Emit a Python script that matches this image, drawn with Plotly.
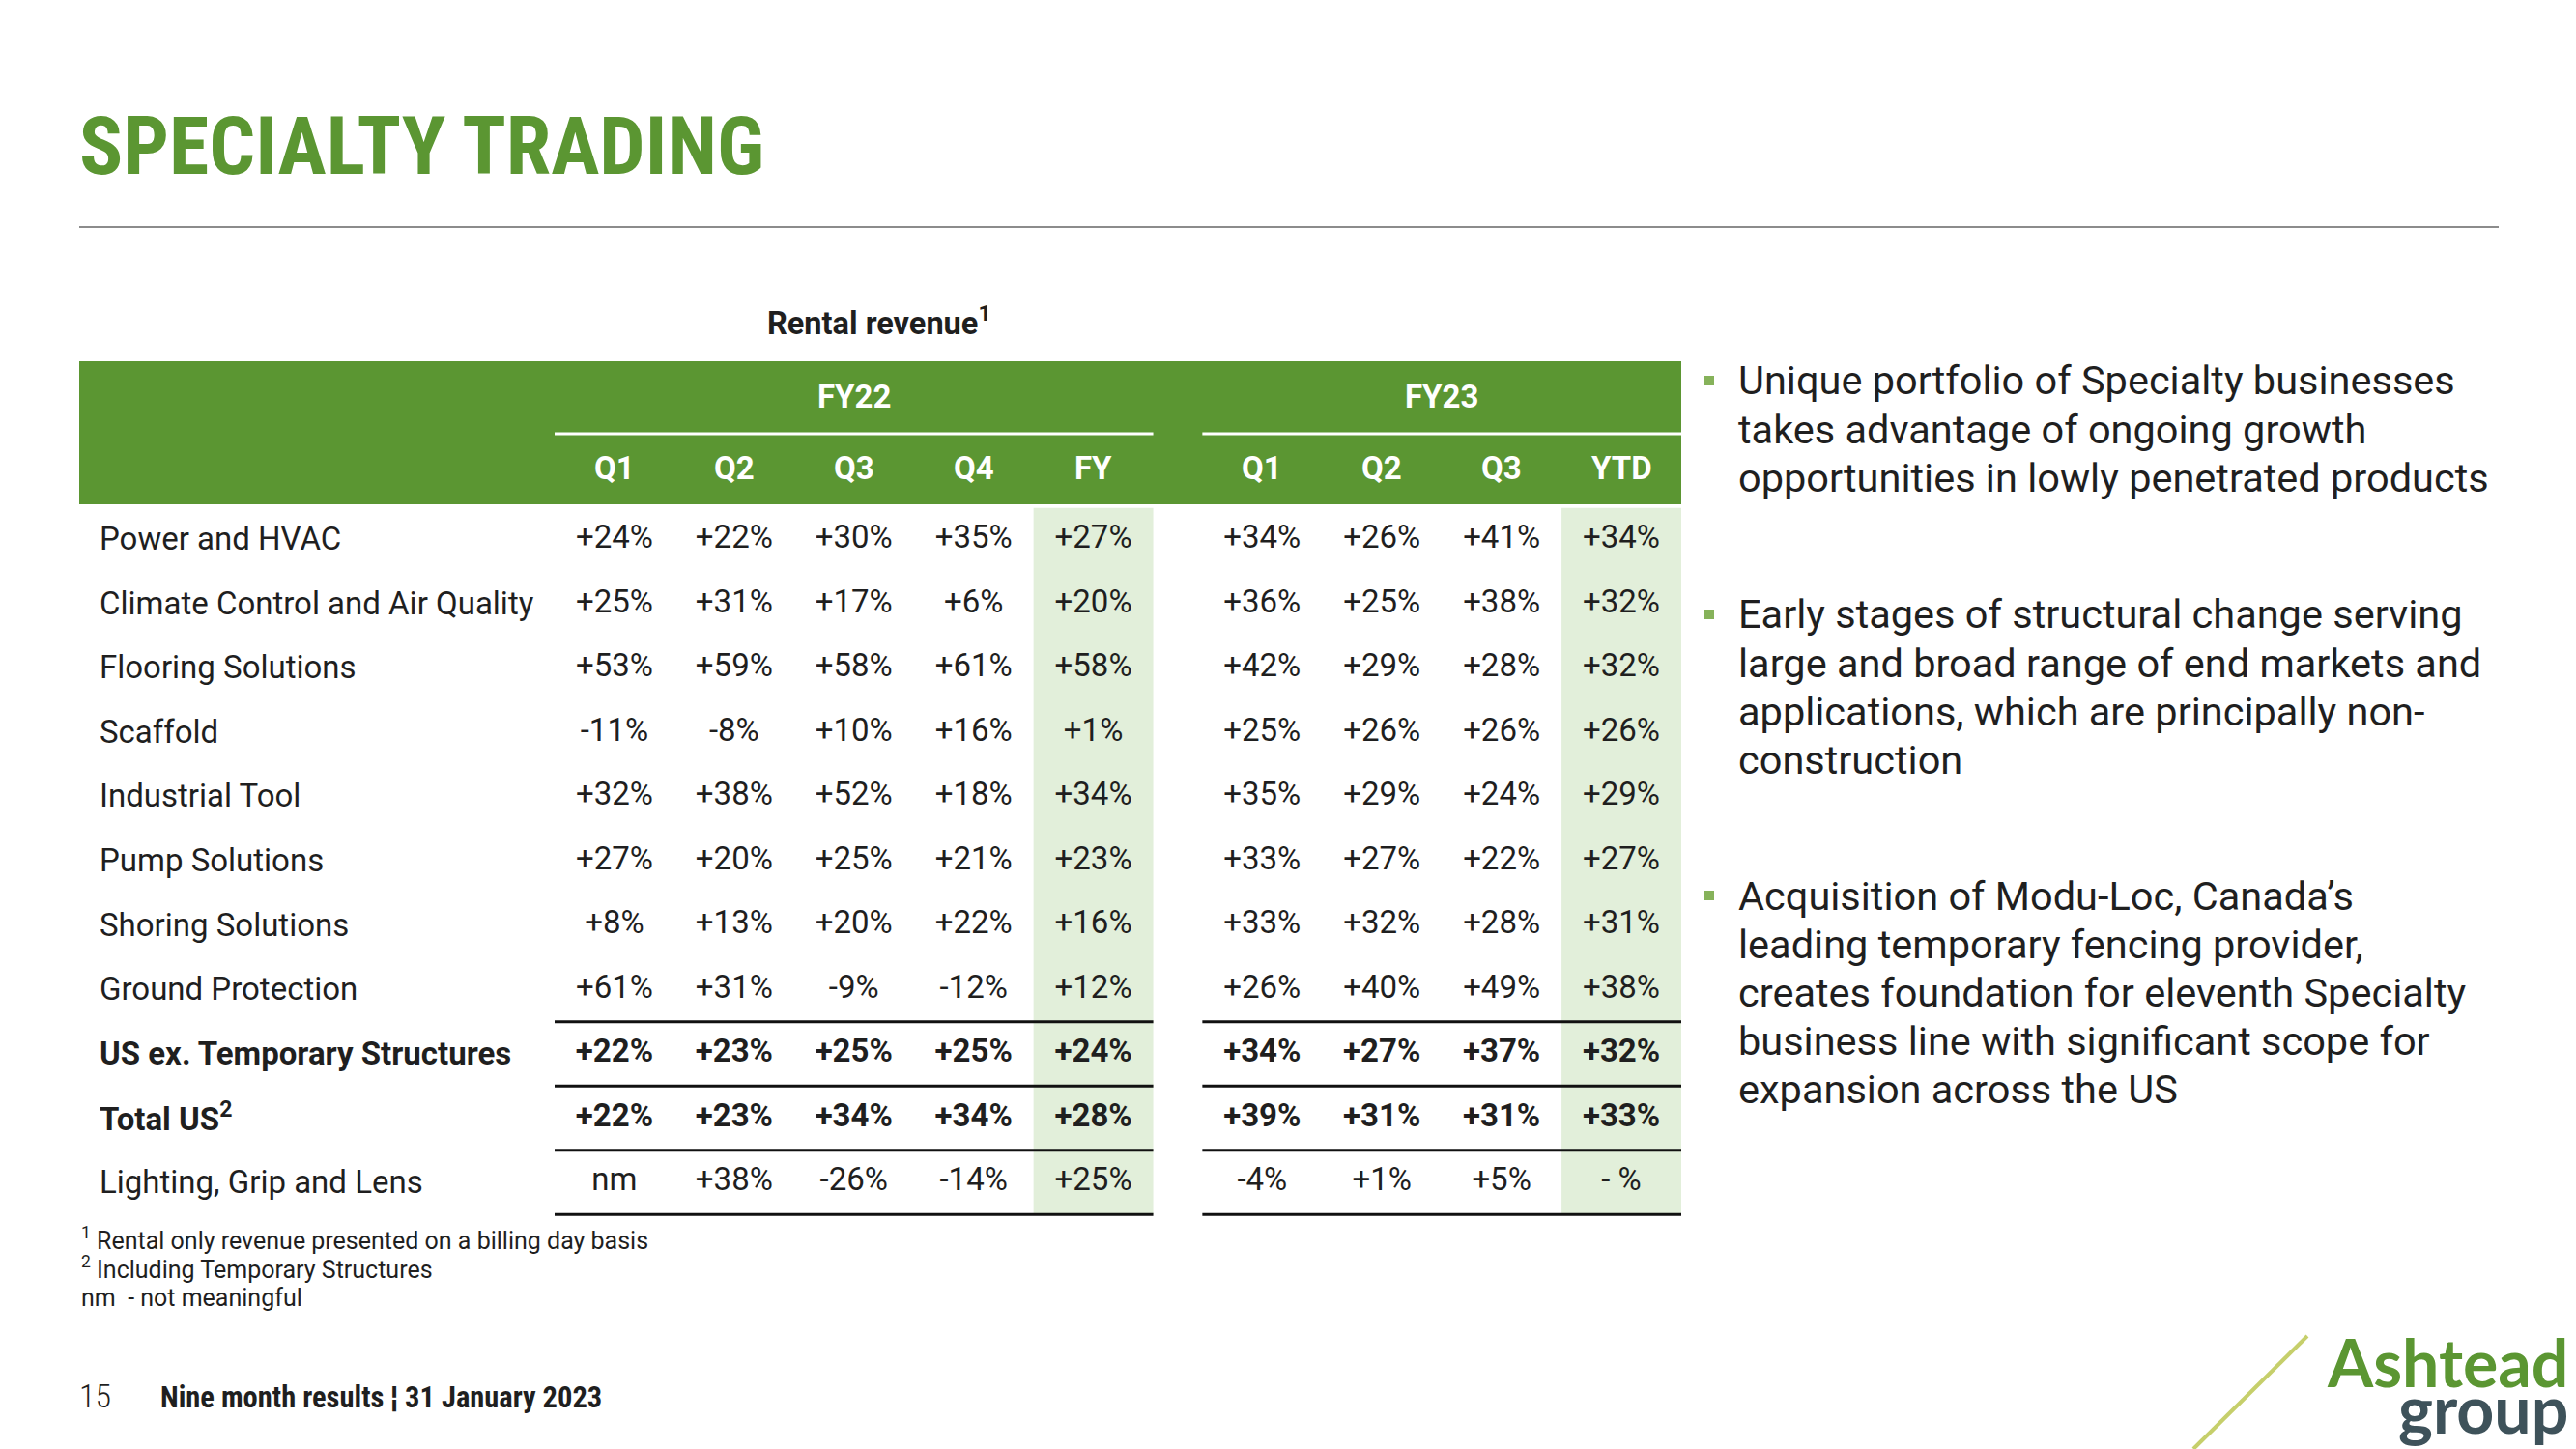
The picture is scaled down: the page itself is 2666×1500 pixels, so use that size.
import plotly.graph_objects as go

W, H = 2666, 1500
GREEN = "#5B9632"
LIGHT = "#E2EFDA"
TEXT = "#1F1F1F"
BODY = "Roboto, 'Noto Sans', sans-serif"
NARROW = "'Roboto Condensed', 'Liberation Sans Narrow', 'Arial Narrow', 'DejaVu Sans Condensed', sans-serif"

# ---------------- data ----------------
rows = ["Power and HVAC", "Climate Control and Air Quality", "Flooring Solutions", "Scaffold",
        "Industrial Tool", "Pump Solutions", "Shoring Solutions", "Ground Protection",
        "US ex. Temporary Structures", "Total US", "Lighting, Grip and Lens"]
row_display = {"Total US": "Total US<sup>2</sup>"}
bold_rows = ["US ex. Temporary Structures", "Total US"]

col_keys = ["FY22 Q1", "FY22 Q2", "FY22 Q3", "FY22 Q4", "FY22 FY", "FY23 Q1", "FY23 Q2", "FY23 Q3", "FY23 YTD"]
col_labels = ["Q1", "Q2", "Q3", "Q4", "FY", "Q1", "Q2", "Q3", "YTD"]
col_groups = ["FY22", "FY22", "FY22", "FY22", "FY22", "FY23", "FY23", "FY23", "FY23"]
shaded_cols = ["FY22 FY", "FY23 YTD"]

fy22_q1 = ["+24%", "+25%", "+53%", "-11%", "+32%", "+27%", "+8%", "+61%", "+22%", "+22%", "nm"]
fy22_q2 = ["+22%", "+31%", "+59%", "-8%", "+38%", "+20%", "+13%", "+31%", "+23%", "+23%", "+38%"]
fy22_q3 = ["+30%", "+17%", "+58%", "+10%", "+52%", "+25%", "+20%", "-9%", "+25%", "+34%", "-26%"]
fy22_q4 = ["+35%", "+6%", "+61%", "+16%", "+18%", "+21%", "+22%", "-12%", "+25%", "+34%", "-14%"]
fy22_fy = ["+27%", "+20%", "+58%", "+1%", "+34%", "+23%", "+16%", "+12%", "+24%", "+28%", "+25%"]
fy23_q1 = ["+34%", "+36%", "+42%", "+25%", "+35%", "+33%", "+33%", "+26%", "+34%", "+39%", "-4%"]
fy23_q2 = ["+26%", "+25%", "+29%", "+26%", "+29%", "+27%", "+32%", "+40%", "+27%", "+31%", "+1%"]
fy23_q3 = ["+41%", "+38%", "+28%", "+26%", "+24%", "+22%", "+28%", "+49%", "+37%", "+31%", "+5%"]
fy23_ytd = ["+34%", "+32%", "+32%", "+26%", "+29%", "+27%", "+31%", "+38%", "+32%", "+33%", "- %"]
col_values = [fy22_q1, fy22_q2, fy22_q3, fy22_q4, fy22_fy, fy23_q1, fy23_q2, fy23_q3, fy23_ytd]

ruled_rows = ["US ex. Temporary Structures", "Total US", "Lighting, Grip and Lens"]

bullets = [
    ["Unique portfolio of Specialty businesses", "takes advantage of ongoing growth",
     "opportunities in lowly penetrated products"],
    ["Early stages of structural change serving", "large and broad range of end markets and",
     "applications, which are principally non-", "construction"],
    ["Acquisition of Modu-Loc, Canada’s", "leading temporary fencing provider,",
     "creates foundation for eleventh Specialty", "business line with significant scope for",
     "expansion across the US"],
]
footnotes = ["<sup>1</sup> Rental only revenue presented on a billing day basis",
             "<sup>2</sup> Including Temporary Structures",
             "nm  - not meaningful"]

# ---------------- geometry helpers ----------------
def px(x):
    return x / W

def py(y):
    return 1 - y / H

GAP = 0.41  # gap between FY22 and FY23 blocks, in column units
xpos = []
for i, g in enumerate(col_groups):
    xpos.append(i + (GAP if g == "FY23" else 0.0))

TABLE_L, TABLE_R = 574, 1740
HEAD_T, HEAD_B = 374, 522
BODY_B = 1261

fig = go.Figure()

for key, vals, x in zip(col_keys, col_values, xpos):
    txt = [f"<b>{v}</b>" if r in bold_rows else v for r, v in zip(rows, vals)]
    fig.add_trace(go.Scatter(
        x=[x] * len(rows), y=rows, mode="text", text=txt,
        textposition="middle center",
        textfont=dict(family=BODY, size=33, color=TEXT),
        hoverinfo="skip", showlegend=False, name=key, cliponaxis=False))

shapes = []
annotations = []

# green header band
shapes.append(dict(type="rect", xref="paper", yref="paper", x0=px(82), x1=px(1740),
                   y0=py(HEAD_B), y1=py(HEAD_T), fillcolor=GREEN, line=dict(width=0), layer="below"))

# shaded columns
for key in shaded_cols:
    x = xpos[col_keys.index(key)]
    shapes.append(dict(type="rect", xref="x", yref="y", x0=x - 0.5, x1=x + 0.5,
                       y0=-0.5, y1=len(rows) - 0.5, fillcolor=LIGHT, line=dict(width=0), layer="below"))

# group headers and white rules
for g in ["FY22", "FY23"]:
    gx = [x for x, gg in zip(xpos, col_groups) if gg == g]
    annotations.append(dict(text=f"<b>{g}</b>", xref="x", yref="paper", x=sum(gx) / len(gx), y=py(410),
                            showarrow=False, font=dict(family=BODY, size=33, color="white"),
                            xanchor="center", yanchor="middle"))
    shapes.append(dict(type="line", xref="x", yref="paper", x0=min(gx) - 0.5, x1=max(gx) + 0.5,
                       y0=py(449), y1=py(449), line=dict(color="white", width=3)))
    # black row rules
    for r in ruled_rows:
        i = rows.index(r)
        for yy in ([i - 0.5, i + 0.5] if r == ruled_rows[0] else [i + 0.5]):
            shapes.append(dict(type="line", xref="x", yref="y", x0=min(gx) - 0.5, x1=max(gx) + 0.5,
                               y0=yy, y1=yy, line=dict(color="#111111", width=3)))

# column headers
for lab, x in zip(col_labels, xpos):
    annotations.append(dict(text=f"<b>{lab}</b>", xref="x", yref="paper", x=x, y=py(485),
                            showarrow=False, font=dict(family=BODY, size=33, color="white"),
                            xanchor="center", yanchor="middle"))

# row labels
for i, r in enumerate(rows):
    t = row_display.get(r, r)
    if r in bold_rows:
        t = f"<b>{t}</b>"
    annotations.append(dict(text=t, xref="paper", yref="y", x=px(101), y=i, yshift=1, showarrow=False,
                            font=dict(family=BODY, size=33, color=TEXT), xanchor="left", yanchor="middle"))

# table title
annotations.append(dict(text="<b>Rental revenue<sup>1</sup></b>", xref="paper", yref="paper",
                        x=px(792), y=py(333), showarrow=False,
                        font=dict(family=BODY, size=32.5, color=TEXT), xanchor="left", yanchor="middle"))

# slide title and rule
annotations.append(dict(text="<b>SPECIALTY TRADING</b>", xref="paper", yref="paper", x=px(80), y=py(152),
                        showarrow=False, font=dict(family=NARROW, size=84, color=GREEN),
                        xanchor="left", yanchor="middle"))
shapes.append(dict(type="line", xref="paper", yref="paper", x0=px(82), x1=px(2586), y0=py(235), y1=py(235),
                   line=dict(color="#8C8C8C", width=2)))

# bullets (one annotation per line for exact line spacing)
bullet_first = [394, 636, 927]
LINE_STEP = 50.2
for lines, yf in zip(bullets, bullet_first):
    for k, ln in enumerate(lines):
        annotations.append(dict(text=ln, xref="paper", yref="paper", x=px(1797), y=py(yf + k * LINE_STEP),
                                showarrow=False, xanchor="left", yanchor="middle",
                                font=dict(family=BODY, size=41.5, color=TEXT)))
    shapes.append(dict(type="rect", xref="paper", yref="paper", x0=px(1764), x1=px(1774),
                       y0=py(yf + 5), y1=py(yf - 5), fillcolor="#86B25A", line=dict(width=0)))

# footnotes
for k, fn in enumerate(footnotes):
    annotations.append(dict(text=fn, xref="paper", yref="paper", x=px(82), y=py(1282 + k * 30.6),
                            showarrow=False, xanchor="left", yanchor="middle",
                            font=dict(family=BODY, size=25, color=TEXT)))

# footer
annotations.append(dict(text="15", xref="paper", yref="paper", x=px(80), y=py(1445), showarrow=False,
                        xanchor="left", yanchor="middle",
                        font=dict(family=NARROW, size=34, color=TEXT, weight=300)))
annotations.append(dict(text="<b>Nine month results ¦ 31 January 2023</b>", xref="paper", yref="paper",
                        x=px(164), y=py(1446), showarrow=False, xanchor="left", yanchor="middle",
                        font=dict(family=NARROW, size=30.5, color=TEXT)))

# logo
shapes.append(dict(type="line", xref="paper", yref="paper", x0=px(2270), y0=py(1500), x1=px(2388), y1=py(1383),
                   line=dict(color="#C6CF6B", width=4)))
annotations.append(dict(text="<b>Ashtead</b>", xref="paper", yref="paper", x=px(2660), y=py(1409),
                        showarrow=False, xanchor="right", yanchor="middle",
                        font=dict(family="Lato, Roboto, sans-serif", size=68, color=GREEN, weight=900)))
annotations.append(dict(text="<b>group</b>", xref="paper", yref="paper", x=px(2660), y=py(1457),
                        showarrow=False, xanchor="right", yanchor="middle",
                        font=dict(family="Lato, Roboto, sans-serif", size=68, color="#3E525A", weight=900)))

fig.update_layout(
    width=W, height=H,
    margin=dict(l=0, r=0, t=0, b=0, pad=0),
    paper_bgcolor="white", plot_bgcolor="rgba(0,0,0,0)",
    shapes=shapes, annotations=annotations,
    xaxis=dict(domain=[px(TABLE_L), px(TABLE_R)], range=[-0.5, xpos[-1] + 0.5], visible=False, fixedrange=True),
    yaxis=dict(domain=[py(BODY_B), py(HEAD_B)], type="category", categoryorder="array",
               categoryarray=rows, autorange="reversed", visible=False, fixedrange=True),
    showlegend=False,
)

fig.write_html("out.html", config={"displayModeBar": False},
               post_script="document.body.style.margin='0';document.body.style.overflow='hidden';")
